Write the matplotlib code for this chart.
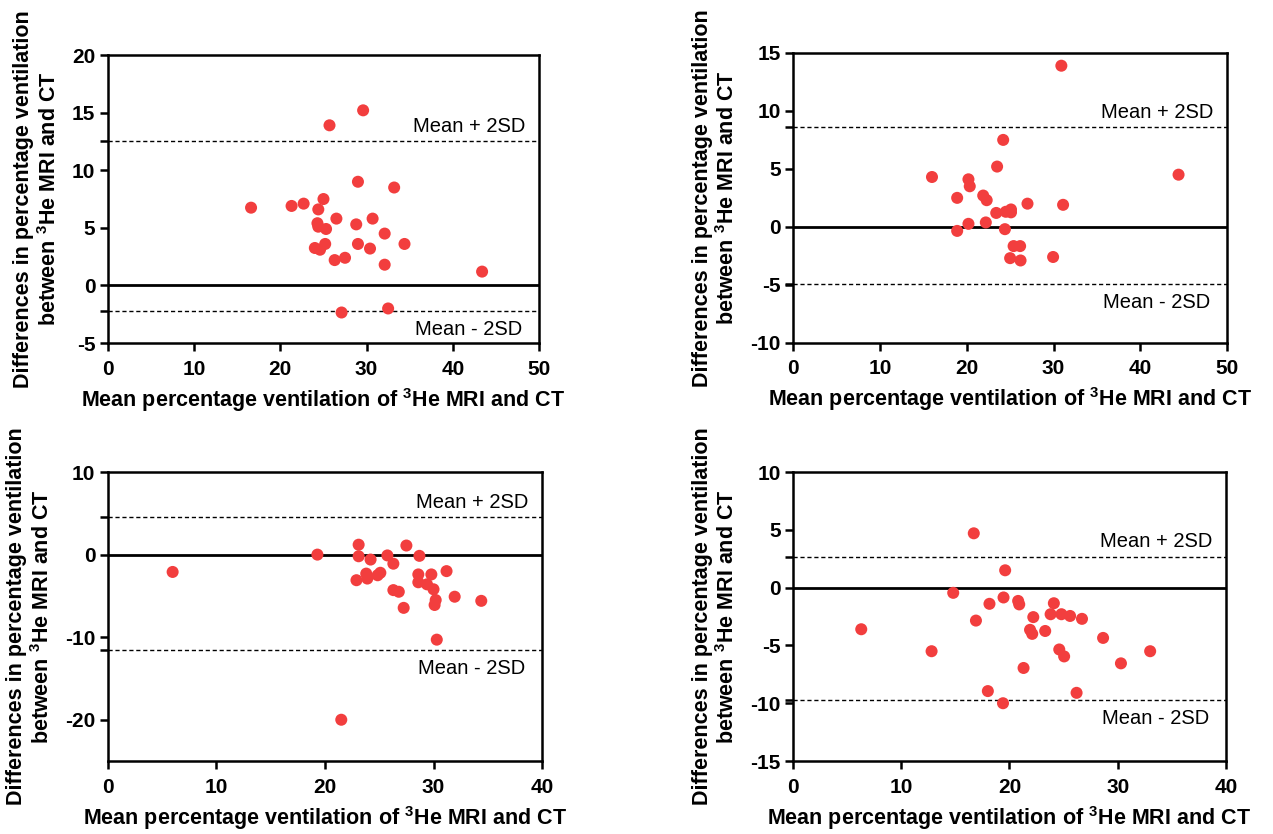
import numpy as np
import matplotlib.pyplot as plt

plt.rcParams['font.family'] = ['Liberation Sans', 'DejaVu Sans']
plt.rcParams['axes.unicode_minus'] = False
plt.rcParams['mathtext.fontset'] = 'custom'
plt.rcParams['mathtext.bf'] = 'Liberation Sans:bold'
plt.rcParams['mathtext.rm'] = 'Liberation Sans:bold'

# panel 1 (top left)
p1_x = [29.6, 25.7, 29.0, 33.2, 25.0, 16.6, 21.3, 22.7, 24.4, 26.5, 30.7, 24.3, 24.4, 25.3,
        28.8, 32.1, 24.0, 24.6, 25.2, 29.0, 30.4, 34.4, 26.3, 27.5, 32.1, 43.4, 27.1, 32.5]
p1_y = [15.2, 13.9, 9.0, 8.5, 7.5, 6.75, 6.9, 7.1, 6.6, 5.8, 5.8, 5.4, 5.1, 4.9,
        5.3, 4.5, 3.25, 3.1, 3.6, 3.6, 3.2, 3.6, 2.2, 2.4, 1.8, 1.2, -2.35, -2.0]
p1_sd = (12.5, -2.2)
p1_yticks = [-5, 0, 5, 10, 15, 20]

# panel 2 (top right)
p2_x = [30.9, 24.2, 23.5, 16.0, 20.2, 20.35, 44.4, 18.9, 21.9, 22.3, 27.0, 31.1, 23.4,
        24.5, 25.1, 25.1, 20.2, 22.2, 18.9, 24.4, 25.4, 26.15, 25.0, 26.2, 29.95]
p2_y = [13.9, 7.5, 5.2, 4.3, 4.1, 3.5, 4.5, 2.5, 2.7, 2.3, 2.0, 1.9, 1.2,
        1.3, 1.5, 1.25, 0.26, 0.38, -0.35, -0.2, -1.66, -1.66, -2.7, -2.9, -2.6]
p2_sd = (8.6, -4.9)
p2_yticks = [-10, -5, 0, 5, 10, 15]

# panel 3 (bottom left)
p3_x = [5.96, 19.3, 23.1, 27.5, 23.1, 24.2, 25.75, 28.7, 26.3, 22.9, 23.8, 23.9, 24.85, 25.1, 28.6,
        29.8, 31.2, 28.6, 29.4, 30.0, 26.3, 26.8, 31.95, 34.4, 30.2, 30.1, 27.25, 30.3, 21.5]
p3_y = [-2.1, 0.0, 1.2, 1.1, -0.2, -0.6, -0.1, -0.15, -1.1, -3.1, -2.3, -2.9, -2.5, -2.2, -2.4,
        -2.4, -2.0, -3.35, -3.6, -4.2, -4.3, -4.5, -5.1, -5.6, -5.5, -6.1, -6.45, -10.3, -20.0]
p3_sd = (4.5, -11.5)
p3_yticks = [-20, -10, 0, 10]

# panel 4 (bottom right)
p4_x = [16.7, 19.6, 14.8, 19.45, 18.15, 20.8, 20.9, 24.1, 23.8, 24.8, 25.6, 26.7, 22.2, 16.9,
        6.3, 21.9, 22.1, 23.3, 28.65, 12.8, 24.6, 25.05, 33.0, 30.3, 21.3, 18.0, 26.2, 19.4]
p4_y = [4.7, 1.5, -0.45, -0.85, -1.4, -1.15, -1.45, -1.35, -2.3, -2.3, -2.45, -2.7, -2.55, -2.85,
        -3.6, -3.65, -4.0, -3.75, -4.35, -5.5, -5.35, -5.95, -5.5, -6.55, -6.95, -8.95, -9.1, -10.0]
p4_sd = (2.65, -9.7)
p4_yticks = [-15, -10, -5, 0, 5, 10]

RED = '#F23E3E'
XLABEL = r'Mean percentage ventilation of $^{3}$He MRI and CT'
YLABEL = 'Differences in percentage ventilation\n' + r'between $^{3}$He MRI and CT'


def draw_panel(ax, x, y, sd, xmax, ylim, yticks):
    hi, lo = sd
    ax.axhline(0, color='black', lw=2, zorder=1)
    ax.axhline(hi, color='black', lw=1, ls=(0, (3, 2)), zorder=1)
    ax.axhline(lo, color='black', lw=1, ls=(0, (3, 2)), zorder=1)
    ax.scatter(x, y, s=75, color=RED, edgecolors='none', zorder=3)

    ax.set_xlim(0, xmax)
    ax.set_ylim(*ylim)
    ax.set_xticks(np.arange(0, xmax + 1, 10))
    ax.set_yticks(yticks)
    ax.set_yticks([hi, lo], minor=True)
    ax.tick_params(which='both', direction='out', length=6, width=1.8,
                   labelsize=15)
    ax.tick_params(axis='x', pad=6)
    ax.tick_params(axis='y', pad=3)
    for lab in ax.get_xticklabels() + ax.get_yticklabels():
        lab.set_fontweight('bold')
    for sp in ax.spines.values():
        sp.set_linewidth(1.8)

    ax.annotate('Mean + 2SD', xy=(1, hi), xycoords=('axes fraction', 'data'),
                xytext=(-10, 4), textcoords='offset points',
                ha='right', va='bottom', fontsize=14.5)
    ax.annotate('Mean - 2SD', xy=(1, lo), xycoords=('axes fraction', 'data'),
                xytext=(-12, -7), textcoords='offset points',
                ha='right', va='top', fontsize=14.5)

    ax.set_xlabel(XLABEL, fontsize=15.5, fontweight='bold', labelpad=5)
    ax.set_ylabel(YLABEL, fontsize=15.5, fontweight='bold', labelpad=8)


fig = plt.figure(figsize=(12.73, 8.34), dpi=100)
ax1 = fig.add_axes([0.0848, 0.5887, 0.3386, 0.3453])
ax2 = fig.add_axes([0.6230, 0.5890, 0.3410, 0.3475])
ax3 = fig.add_axes([0.0848, 0.0875, 0.3410, 0.3465])
ax4 = fig.add_axes([0.6230, 0.0875, 0.3400, 0.3465])

draw_panel(ax1, p1_x, p1_y, p1_sd, 50, (-5, 20), p1_yticks)
draw_panel(ax2, p2_x, p2_y, p2_sd, 50, (-10, 15), p2_yticks)
draw_panel(ax3, p3_x, p3_y, p3_sd, 40, (-25, 10), p3_yticks)
draw_panel(ax4, p4_x, p4_y, p4_sd, 40, (-15, 10), p4_yticks)

fig.savefig('out.png', dpi=100)
